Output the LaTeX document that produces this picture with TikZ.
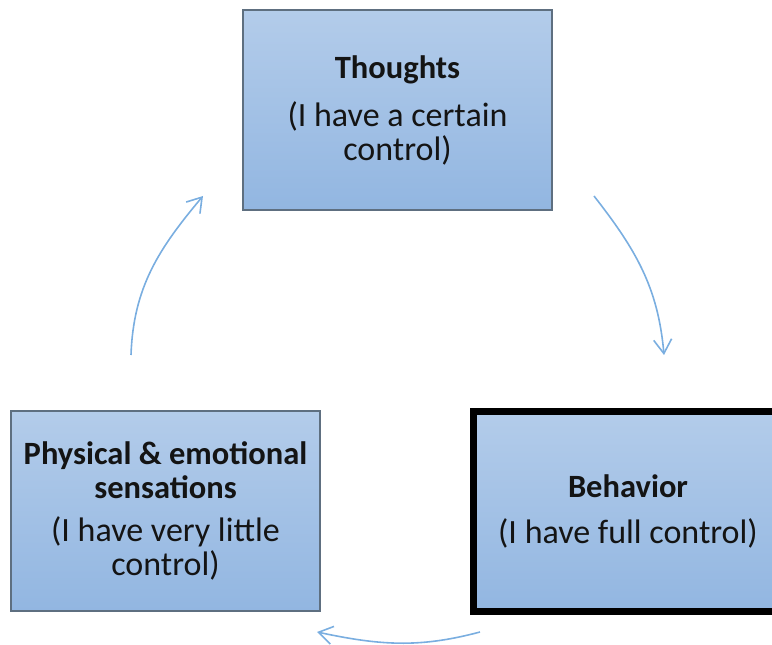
\documentclass[tikz,border=0pt]{standalone}
\usepackage{fontspec}
\setmainfont{Carlito}
\usetikzlibrary{arrows.meta,calc,positioning}
\definecolor{boxtop}{HTML}{B3CCEA}
\definecolor{boxbottom}{HTML}{92B6E1}
\definecolor{boxline}{HTML}{5E6F80}
\definecolor{arrowblue}{HTML}{7AAEE0}
\definecolor{textdark}{HTML}{141414}
\newcommand{\boxtitle}[1]{{\fontsize{32.5}{33.5}\selectfont\bfseries #1}}
\tikzset{
     box node/.style={draw=boxline, line width=1.2pt, top color=boxtop, bottom color=boxbottom,
        minimum width=309pt, minimum height=200pt, inner sep=0pt, align=center,
        text=textdark, font=\fontsize{34}{33.5}\selectfont},
      heavy box/.style = {draw=black, line width=7pt},
      cycleedge/.style = {arrowblue, line width=1.6pt, -{Straight Barb[length=14pt,width=18pt]}},
    }

\begin{document}
\begin{tikzpicture}[x=1pt,y=1pt]
        \clip (0,0) rectangle (772,645);
        \node [box node] (thoughts) at (397.5,535) {\boxtitle{Thoughts}\\[15pt](I have a certain\\control)};
        \node [box node] (physical) at (165.5,134) {\boxtitle{Physical \& emotional}\\\boxtitle{sensations}\\[10pt](I have very little\\control)};
        \node [box node, heavy box] (behavior) at (628,133.5) {\boxtitle{Behavior}\\[12pt](I have full control)};
        % free ends of the cycle arrows
        \coordinate (physical-out) at (131,290);
        \coordinate (thoughts-in)  at (203,449);
        \coordinate (thoughts-out) at (594,449);
        \coordinate (behavior-in)  at (664,290);
        \coordinate (behavior-out) at (480,13);
        \coordinate (physical-in)  at (317,13);
        \path
        (physical-out) edge [cycleedge, out=88, in=230] (thoughts-in)
        (thoughts-out) edge [cycleedge, out=-52, in=95] (behavior-in)
        (behavior-out) edge [cycleedge, out=195, in=-12] (physical-in);
    \end{tikzpicture}
\end{document}
